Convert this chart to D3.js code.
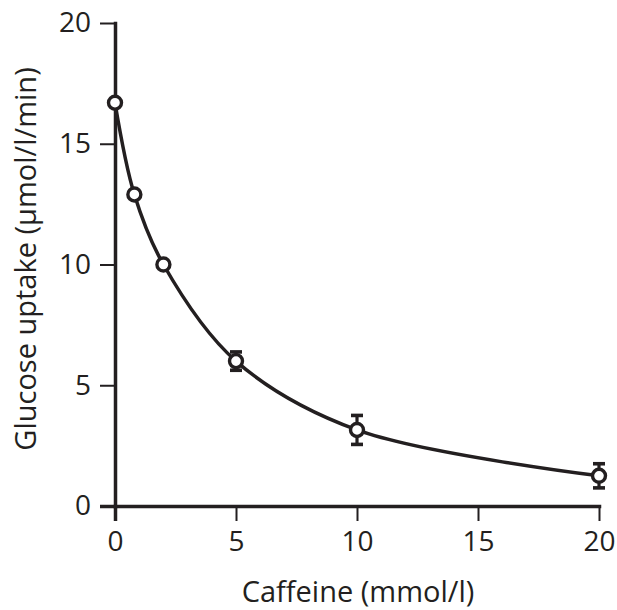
<!DOCTYPE html>
<html>
<head>
<meta charset="utf-8">
<script src="https://cdn.jsdelivr.net/npm/d3@7"></script>
<style>
  html, body { margin: 0; padding: 0; background: #fff; }
  text { font-family: "Open Sans", "DejaVu Sans", sans-serif; fill: #231f20; }
</style>
</head>
<body>
<svg id="chart" width="617" height="610"></svg>
<script>
// Data
const caffeine = [0, 0.8, 2, 5, 10, 20];          // mmol/l
const uptake   = [16.7, 12.9, 10.0, 6.0, 3.15, 1.25]; // µmol/l/min
const errors   = [0, 0, 0, 0.38, 0.6, 0.5];
const xTicks = [0, 5, 10, 15, 20];
const yTicks = [0, 5, 10, 15, 20];
const xTitle = "Caffeine (mmol/l)";
const yTitle = "Glucose uptake (\u03bcmol/l/min)";

const ink = "#231f20";
const svg = d3.select("#chart");
const x = d3.scaleLinear().domain([0, 20]).range([115, 599]);
const y = d3.scaleLinear().domain([0, 20]).range([506, 23]);

const data = caffeine.map((c, i) => ({ x: c, y: uptake[i], e: errors[i] }));

// Axes
const xAxis = svg.append("g").attr("transform", `translate(0,${y(0)})`)
  .call(d3.axisBottom(x).tickValues(xTicks).tickSize(15).tickSizeOuter(0).tickPadding(10));
const yAxis = svg.append("g").attr("transform", `translate(${x(0)},0)`)
  .call(d3.axisLeft(y).tickValues(yTicks).tickSize(15).tickSizeOuter(0).tickPadding(9));

[xAxis, yAxis].forEach(g => {
  g.select(".domain").attr("stroke", ink).attr("stroke-width", 3.5).attr("stroke-linecap", "square");
  g.selectAll(".tick line").attr("stroke", ink).attr("stroke-width", 2);
  g.selectAll(".tick text").attr("font-size", 28).attr("fill", ink)
    .attr("font-family", '"Open Sans", sans-serif');
});
// ticks at origin match axis width
xAxis.selectAll(".tick line").filter(d => d === 0).attr("stroke-width", 3.5);
yAxis.selectAll(".tick line").filter(d => d === 0).attr("stroke-width", 3.5);
xAxis.selectAll(".tick text").attr("dy", "0.71em");

// Curve
const line = d3.line().x(d => x(d.x)).y(d => y(d.y)).curve(d3.curveCatmullRom.alpha(0.5));
svg.append("path").datum(data).attr("d", line)
  .attr("fill", "none").attr("stroke", ink).attr("stroke-width", 3.5);

// Error bars
const eb = svg.append("g").attr("stroke", ink);
data.filter(d => d.e > 0).forEach(d => {
  eb.append("line").attr("x1", x(d.x)).attr("x2", x(d.x))
    .attr("y1", y(d.y + d.e)).attr("y2", y(d.y - d.e)).attr("stroke-width", 3.2);
  [d.y + d.e, d.y - d.e].forEach(v => {
    eb.append("line").attr("x1", x(d.x) - 6).attr("x2", x(d.x) + 6)
      .attr("y1", y(v)).attr("y2", y(v)).attr("stroke-width", 3.6);
  });
});

// Points
svg.append("g").selectAll("circle").data(data).join("circle")
  .attr("cx", d => x(d.x)).attr("cy", d => y(d.y)).attr("r", 6.5)
  .attr("fill", "#fff").attr("stroke", ink).attr("stroke-width", 3.4);

// Titles
svg.append("text").attr("x", 358).attr("y", 602).attr("text-anchor", "middle")
  .attr("font-size", 29).text(xTitle);
svg.append("text").attr("transform", `translate(36,259) rotate(-90)`)
  .attr("text-anchor", "middle").attr("font-size", 29).text(yTitle);
</script>
</body>
</html>
